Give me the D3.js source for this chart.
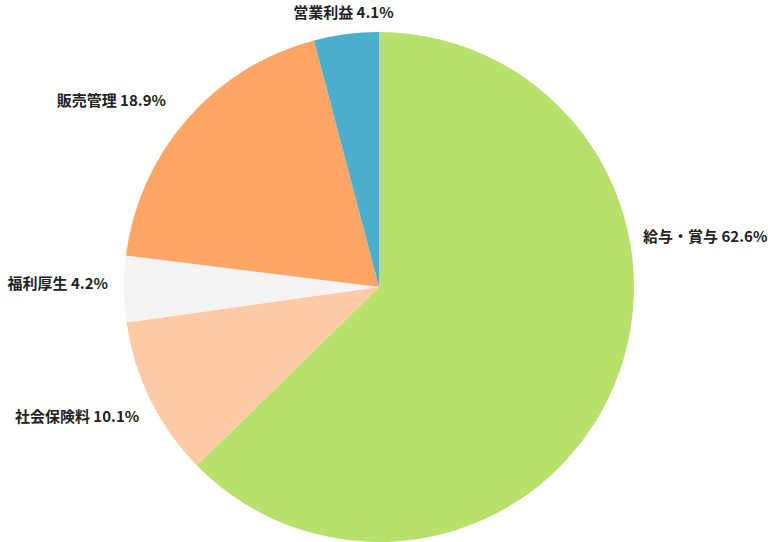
<!DOCTYPE html>
<html>
<head>
<meta charset="utf-8">
<script src="https://cdn.jsdelivr.net/npm/d3@7"></script>
<style>
  html, body { margin: 0; padding: 0; background: #fff; }
  svg { display: block; }
  .lbl { font-family: "Noto Sans CJK JP", "Noto Sans", sans-serif; font-weight: bold; font-size: 15px; fill: #222; }
</style>
</head>
<body>
<svg id="chart" width="768" height="542"></svg>
<script>
// données du graphique
const categories = ["給与・賞与", "社会保険料", "福利厚生", "販売管理", "営業利益"];
const values = [62.6, 10.1, 4.2, 18.9, 4.1];
const colors = ["#b8e16c", "#ffcba6", "#f4f4f4", "#ffa566", "#4bafcb"];

const width = 768, height = 542;
const cx = 379, cy = 287, radius = 255;

const svg = d3.select("#chart");
const g = svg.append("g").attr("transform", `translate(${cx},${cy})`);

const pie = d3.pie().sort(null).value(d => d.value);
const arcs = pie(categories.map((c, i) => ({ name: c, value: values[i] })));

const arc = d3.arc().innerRadius(0).outerRadius(radius);

g.selectAll("path.slice")
  .data(arcs)
  .enter()
  .append("path")
  .classed("slice", true)
  .attr("d", arc)
  .attr("fill", (d, i) => colors[i]);

// Position des étiquettes : à l'extérieur, sur l'angle médian
// (le grand secteur a son étiquette remontée, comme dans l'original)
const labelRadius = [1.054, 1.069, 1.063, 1.11, 1.085];
const labelAngleShift = [-0.585, -0.038, 0.019, 0, 0];

const labelAngle = (d, i) => (d.startAngle + d.endAngle) / 2 + labelAngleShift[i];

g.selectAll("text.lbl")
  .data(arcs)
  .enter()
  .append("text")
  .classed("lbl", true)
  .attr("x", (d, i) => Math.sin(labelAngle(d, i)) * radius * labelRadius[i])
  .attr("y", (d, i) => -Math.cos(labelAngle(d, i)) * radius * labelRadius[i])
  .attr("dy", "0.35em")
  .attr("text-anchor", (d, i) => {
    const s = Math.sin(labelAngle(d, i));
    if (Math.abs(s) < 0.3) return "middle";
    return s > 0 ? "start" : "end";
  })
  .text(d => d.data.name + " " + d.data.value.toFixed(1) + "%");
</script>
</body>
</html>
